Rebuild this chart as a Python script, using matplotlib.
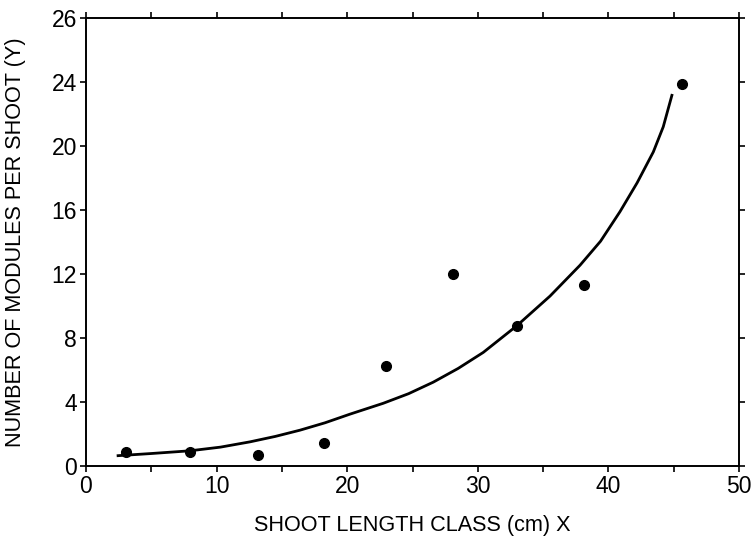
import matplotlib
matplotlib.use("Agg")
import matplotlib.pyplot as plt

plt.rcParams['font.family'] = ['Liberation Sans', 'DejaVu Sans']

# Observed data points
shoot_length = [3.1, 8.0, 13.2, 18.2, 23.0, 28.1, 33.0, 38.1, 45.6]
modules = [0.87, 0.87, 0.68, 1.43, 6.27, 12.0, 8.76, 11.3, 23.9]

# Fitted curve
curve_x = [2.35, 5.0, 7.96, 10.3, 12.56, 14.5, 16.39, 18.3, 20.21, 22.76, 24.7,
           26.59, 28.5, 30.42, 32.98, 35.53, 37.83, 39.4, 40.89, 42.2, 43.44, 44.2, 44.89]
curve_y = [0.64, 0.78, 0.95, 1.18, 1.51, 1.85, 2.24, 2.70, 3.24, 3.92, 4.52,
           5.24, 6.10, 7.10, 8.76, 10.62, 12.55, 14.05, 15.90, 17.70, 19.63, 21.2, 23.25]

x_ticks = [0, 10, 20, 30, 40, 50]
x_tick_labels = ["0", "10", "20", "30", "40", "50"]
y_ticks = [0, 4, 8, 12, 16, 20, 24, 28]
y_tick_labels = ["0", "4", "8", "12", "16", "20", "24", "26"]

fig = plt.figure(figsize=(7.52, 5.40), dpi=100)
ax = fig.add_axes([86/752, 1-466/540, (739-86)/752, (466-18)/540])

ax.plot(curve_x, curve_y, color='black', lw=2.0, solid_capstyle='butt',
        solid_joinstyle='round')
ax.plot(shoot_length, modules, 'o', color='black', markersize=7)

ax.set_xlim(0, 50)
ax.set_ylim(0, 28)
ax.set_xticks(x_ticks)
ax.set_xticklabels(x_tick_labels)
ax.set_xticks([5, 15, 25, 35, 45], minor=True)
ax.set_yticks(y_ticks)
ax.set_yticklabels(y_tick_labels)

for s in ax.spines.values():
    s.set_linewidth(1.4)

ax.tick_params(axis='both', which='both', direction='out', length=4.5, width=1.2,
               labelsize=16.5, top=True, right=True, pad=2)
ax.tick_params(axis='x', which='both', labeltop=False)
ax.tick_params(axis='y', labelright=False)

ax.set_xlabel("SHOOT LENGTH CLASS (cm) X", fontsize=15.6, labelpad=12)
ax.set_ylabel("NUMBER OF MODULES PER SHOOT (Y)", fontsize=15.6, labelpad=18)

fig.savefig("out.png", dpi=100)
